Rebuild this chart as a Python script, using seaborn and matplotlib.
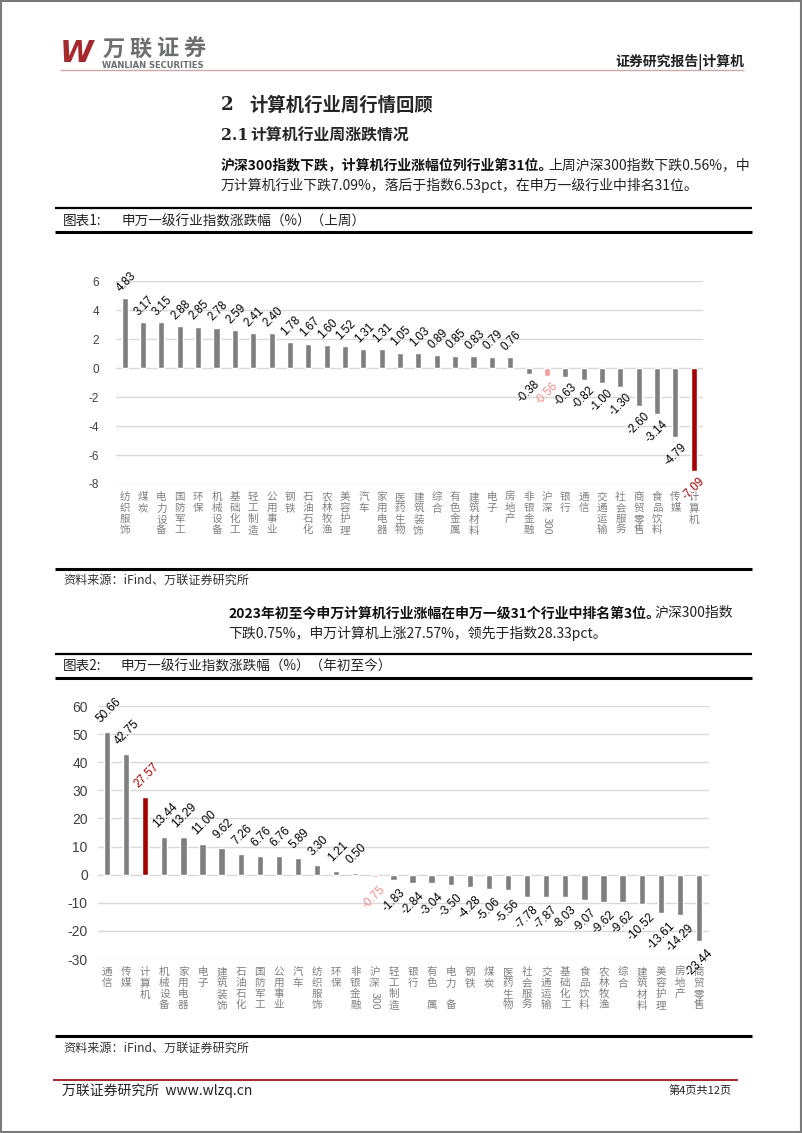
import matplotlib
matplotlib.use("Agg")
import matplotlib.pyplot as plt
import seaborn as sns
from matplotlib.lines import Line2D
from matplotlib.patches import Rectangle

# ---------------- data ----------------
week_cats = ["纺织服饰", "煤炭", "电力设备", "国防军工", "环保", "机械设备", "基础化工", "轻工制造",
             "公用事业", "钢铁", "石油石化", "农林牧渔", "美容护理", "汽车", "家用电器", "医药生物",
             "建筑装饰", "综合", "有色金属", "建筑材料", "电子", "房地产", "非银金融", "沪深300",
             "银行", "通信", "交通运输", "社会服务", "商贸零售", "食品饮料", "传媒", "计算机"]
week_vals = [4.83, 3.17, 3.15, 2.88, 2.85, 2.78, 2.59, 2.41, 2.40, 1.78, 1.67, 1.60, 1.52, 1.31,
             1.31, 1.05, 1.03, 0.89, 0.85, 0.83, 0.79, 0.76, -0.38, -0.56, -0.63, -0.82, -1.00,
             -1.30, -2.60, -3.14, -4.79, -7.09]
week_yticks = [-8, -6, -4, -2, 0, 2, 4, 6]

ytd_cats = ["通信", "传媒", "计算机", "机械设备", "家用电器", "电子", "建筑装饰", "石油石化",
            "国防军工", "公用事业", "汽车", "纺织服饰", "环保", "非银金融", "沪深300", "轻工制造",
            "银行", "有色金属", "电力设备", "钢铁", "煤炭", "医药生物", "社会服务", "交通运输",
            "基础化工", "食品饮料", "农林牧渔", "综合", "建筑材料", "美容护理", "房地产", "商贸零售"]
ytd_vals = [50.66, 42.75, 27.57, 13.44, 13.29, 11.00, 9.62, 7.26, 6.76, 6.76, 5.89, 3.30, 1.21,
            0.50, -0.75, -1.83, -2.84, -3.04, -3.50, -4.28, -5.06, -5.56, -7.78, -7.87, -8.03,
            -9.07, -9.62, -9.62, -10.52, -13.61, -14.29, -23.44]
ytd_yticks = [-30, -20, -10, 0, 10, 20, 30, 40, 50, 60]
# tick labels as printed in the source (two labels lost a character there)
ytd_tick_text = {"有色金属": "有色\u3000属", "电力设备": "电力\u3000备"}

GRAY, PINK, RED = "#7f7f7f", "#f4a0a0", "#a50000"
LBL_PINK = "#f08c8c"

def bar_colors(cats):
    return [RED if c == "计算机" else PINK if c == "沪深300" else GRAY for c in cats]

def label_color(c):
    return RED if c == "计算机" else LBL_PINK if c == "沪深300" else "black"

# ---------------- figure ----------------
sns.set_style("white")
plt.rcParams["font.family"] = ["Noto Sans CJK SC", "DejaVu Sans"]
plt.rcParams["axes.unicode_minus"] = False

W, H = 802, 1133
fig = plt.figure(figsize=(W / 100, H / 100), dpi=100)
fig.patch.set_facecolor("white")

def fx(x): return x / W
def fy(y): return 1 - y / H

def hline(x0, x1, y, lw, color="black"):
    fig.add_artist(Line2D([fx(x0), fx(x1)], [fy(y), fy(y)], transform=fig.transFigure,
                          color=color, lw=lw, solid_capstyle="butt"))

def text(x, y, s, **kw):
    kw.setdefault("va", "center")
    return fig.text(fx(x), fy(y), s, **kw)

# page border
fig.add_artist(Rectangle((fx(1), fy(1132)), fx(800), 1131 / H, transform=fig.transFigure,
                         fill=False, edgecolor="#7a7a7a", lw=1.5))

# header / logo
text(60, 53, "W", fontsize=22, fontweight="heavy", style="italic", color="#a52a2e",
     family="DejaVu Sans")
for k, ch in enumerate("万联证券"):
    text(100 + 13.5 + 27 * k, 49, ch, fontsize=16, fontweight="bold", color="#6d6e70", ha="center")
text(102, 65, "WANLIAN SECURITIES", fontsize=6, fontweight="bold", color="#6d6e70",
     family="DejaVu Sans")
text(744, 62, "证券研究报告|计算机", fontsize=10, fontweight="bold", ha="right", color="#222222")
hline(60, 744, 70, 1.0, "#cfa9a9")

# headings
text(221, 105, "2", fontsize=13.2, fontweight="bold", family="DejaVu Serif")
text(249, 105, "计算机行业周行情回顾", fontsize=13.2, fontweight="bold")
text(221, 136, "2.1", fontsize=11.4, fontweight="bold", family="DejaVu Serif")
text(250, 136, "计算机行业周涨跌情况", fontsize=11.4, fontweight="bold")

renderer = fig.canvas.get_renderer()
PSIZE = 10.0

def mixed(x, y, bold, normal, size=PSIZE):
    t = text(x, y, bold, fontsize=size, fontweight="bold", color="#111111")
    bb = t.get_window_extent(renderer)
    text(bb.x1 - 5, y, normal, fontsize=size, color="#222222")

mixed(221, 165, "沪深300指数下跌，计算机行业涨幅位列行业第31位。", "上周沪深300指数下跌0.56%，中")
text(221, 185, "万计算机行业下跌7.09%，落后于指数6.53pct，在申万一级行业中排名31位。",
     fontsize=PSIZE, color="#222222")

mixed(228, 613, "2023年初至今申万计算机行业涨幅在申万一级31个行业中排名第3位。", "沪深300指数")
text(228, 633, "下跌0.75%，申万计算机上涨27.57%，领先于指数28.33pct。", fontsize=PSIZE, color="#222222")

# chart frames
hline(55, 752, 208, 1.6)
text(63, 221, "图表1:", fontsize=9.8, color="#222222")
text(121, 221, "申万一级行业指数涨跌幅（%）（上周）", fontsize=9.8, color="#222222")
hline(55, 752, 232, 2.2)
hline(55, 752, 569, 2.2)
text(63, 580, "资料来源：iFind、万联证券研究所", fontsize=8.7, color="#333333", style="italic")

hline(55, 752, 654, 1.6)
text(63, 666, "图表2:", fontsize=9.8, color="#222222")
text(120, 666, "申万一级行业指数涨跌幅（%）（年初至今）", fontsize=9.8, color="#222222")
hline(55, 752, 678, 2.2)
hline(55, 752, 1036, 2.2)
text(63, 1048, "资料来源：iFind、万联证券研究所", fontsize=8.7, color="#333333", style="italic")

# footer
hline(53, 738, 1080, 1.4, "#a5262a")
text(62, 1091, "万联证券研究所  www.wlzq.cn", fontsize=10, color="#222222")
text(732, 1091, "第4页共12页", fontsize=8, ha="right", color="#222222")


def draw_chart(rect, cats, vals, yticks, ylim, tick_size, tick_pad, lbl_size, off, tick_text=None):
    ax = fig.add_axes(rect)
    sns.barplot(x=cats, y=vals, hue=cats, palette=bar_colors(cats), legend=False,
                width=0.33, saturation=1, ax=ax, zorder=3)
    ax.set_xlim(-0.5, len(cats) - 0.5)
    ax.set_ylim(*ylim)
    ax.set_yticks(yticks)
    ax.set_yticklabels([str(v) for v in yticks], family="Liberation Sans", fontsize=tick_size,
                       color="#404040")
    ax.tick_params(axis="y", length=0, pad=tick_pad)
    ax.grid(axis="y", color="#d9d9d9", lw=1.0, zorder=0)
    ax.grid(axis="x", visible=False)
    for s in ax.spines.values():
        s.set_visible(False)
    labels = []
    for c in cats:
        t = (tick_text or {}).get(c, c)
        if c == "沪深300":
            t = "沪深"
        labels.append("\n".join(t))
    ax.set_xticks(range(len(cats)))
    ax.set_xticklabels(labels, fontsize=7.6, color="#808080", linespacing=1.12, va="top")
    ax.tick_params(axis="x", length=0, pad=6)
    ax.set_xlabel("")
    ax.set_ylabel("")
    for i, (c, v) in enumerate(zip(cats, vals)):
        if c == "沪深300":
            ax.annotate("300", xy=(i, 0), xycoords=ax.get_xaxis_transform(),
                        xytext=(0, -6 - 2 * 7.6 * 1.12 - 1), textcoords="offset points",
                        rotation=-90, ha="center", va="top", fontsize=7.6, color="#808080")
        s = f"{v:.2f}"
        if v >= 0:
            ax.annotate(s, xy=(i, v), xytext=(1, off), textcoords="offset points", rotation=45,
                        ha="center", va="bottom", fontsize=lbl_size, color=label_color(c),
                        family="Liberation Sans", annotation_clip=False)
        else:
            ax.annotate(s, xy=(i, v), xytext=(0, -off), textcoords="offset points", rotation=45,
                        ha="center", va="top", fontsize=lbl_size, color=label_color(c),
                        family="Liberation Sans", annotation_clip=False)
    return ax


draw_chart([fx(115.5), fy(484), (703 - 115.5) / W, (484 - 281) / H],
           week_cats, week_vals, week_yticks, (-8, 6), 8.5, 12, 8.3, 3)
draw_chart([fx(97.5), fy(959), (708.5 - 97.5) / W, (959 - 706) / H],
           ytd_cats, ytd_vals, ytd_yticks, (-30, 60), 10, 7, 8.5, 5, ytd_tick_text)

fig.savefig("out.png", dpi=100, facecolor="white")
